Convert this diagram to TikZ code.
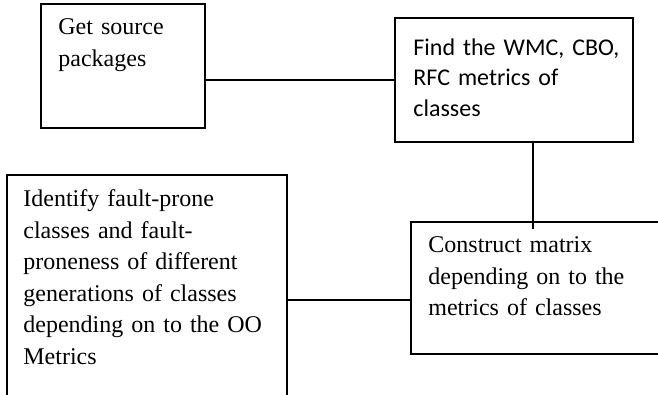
\documentclass[tikz,border=0pt]{standalone}
\usepackage{fontspec}
\setmainfont{Liberation Serif}
\newfontfamily\calibrifont{Carlito}
\begin{document}
\begin{tikzpicture}[x=0.5pt,y=-0.5pt,
  stepbox/.style={draw=black,line width=1pt,rectangle,inner sep=0pt,outer sep=0pt},
  link/.style={draw=black,line width=1pt},
  serif/.style={anchor=base west,inner sep=0pt,align=left,text width=150pt,
    font=\fontsize{12}{15.8}\selectfont},
  sans/.style={anchor=base west,inner sep=0pt,align=left,text width=120pt,
    font=\calibrifont\fontsize{12}{15.2}\selectfont}]
\useasboundingbox (0,0) rectangle (658,395);
\clip (0,0) rectangle (658,395);
% process boxes
\node[stepbox,minimum width=82pt,minimum height=62pt] (src) at (123,66) {};
\node[stepbox,minimum width=119pt,minimum height=62pt] (met) at (514,80) {};
\node[stepbox,minimum width=140pt,minimum height=110.25pt] (flt) at (147,285.25) {};
\node[stepbox,minimum width=135pt,minimum height=66pt] (mat) at (546,288) {};
% box texts
\node[serif] (srct) at (58,35) {Get source\\packages};
\node[sans] (mett) at (413,55.5) {Find the WMC, CBO,\\RFC metrics of\\classes};
\node[serif] (fltt) at (23,206.5) {Identify fault-prone\\classes and fault-\\proneness of different\\generations of classes\\depending on to the OO\\Metrics};
\node[serif] (matt) at (428,252.7) {Construct matrix\\depending on to the\\metrics of classes};
% connectors
\coordinate (drop) at (533,229);
\coordinate (mid) at (0,300);
\draw[link] (met.west -| src.east) -- (met.west);
\draw[link] (met.south -| drop) -- (drop);
\draw[link] (flt.east |- mid) -- (mat.west |- mid);
\end{tikzpicture}
\end{document}
